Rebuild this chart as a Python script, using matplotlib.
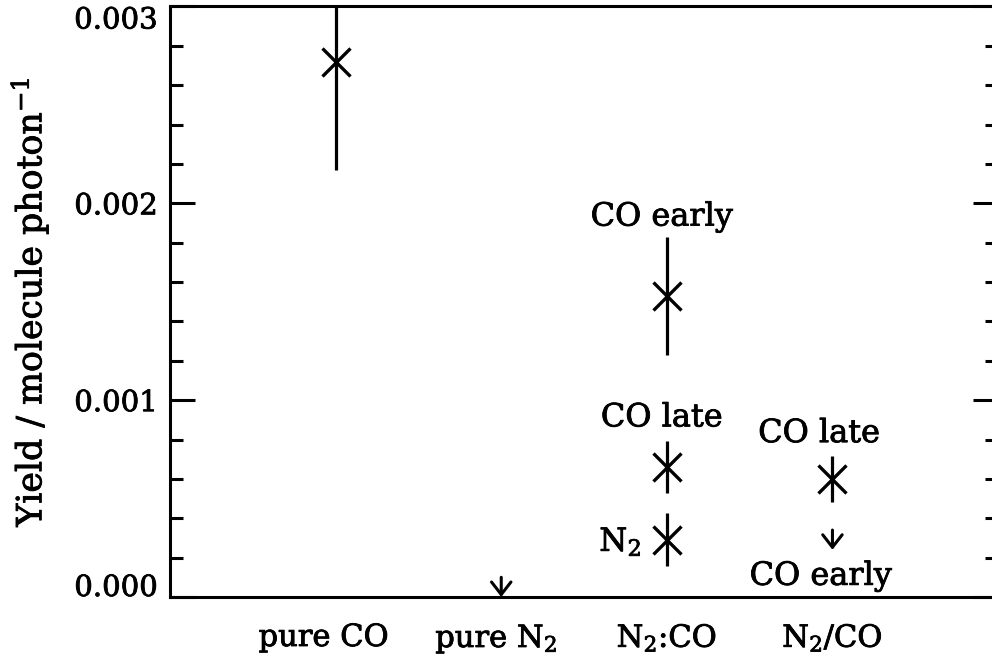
import matplotlib
matplotlib.use("Agg")
import matplotlib.pyplot as plt
import matplotlib.transforms as mtransforms
import matplotlib.patheffects as pe
from matplotlib.ticker import MultipleLocator, FormatStrFormatter

plt.rcParams['font.family'] = 'DejaVu Serif'
plt.rcParams['mathtext.fontset'] = 'dejavuserif'

# samples along the x axis
samples = ["pure CO", "pure N$_2$", "N$_2$:CO", "N$_2$/CO"]
yticks = [0.000, 0.001, 0.002, 0.003]

# measured yields (x position index, value, error, label)
pts_x = [1, 3, 3, 3, 4]
pts_y = [0.00272, 0.00153, 0.00066, 0.00029, 0.00060]
pts_err = [0.00055, 0.00030, 0.00013, 0.000135, 0.000117]
pts_lbl = ["", "CO early", "CO late", "N$_2$", "CO late"]

# upper limits
lim_x = [2, 4]
lim_y = [0.0001, 0.00034]
lim_lbl = ["", "CO early"]

fig = plt.figure(figsize=(9.92, 6.62), dpi=100)
ax = fig.add_axes([0.1714, 0.0982, 0.8347, 0.892])

ax.errorbar(pts_x, pts_y, yerr=pts_err, fmt='x', color='black',
            ms=20, mew=2.4, elinewidth=2.3, capsize=0)

for x, y in zip(lim_x, lim_y):
    ax.annotate("", xy=(x, y - 0.0001), xytext=(x, y),
                arrowprops=dict(arrowstyle="->, head_width=0.35, head_length=0.45",
                                lw=2.2, color='black', shrinkA=0, shrinkB=0,
                                mutation_scale=20))

# annotations next to the points
ax.text(2.97, 0.00193, pts_lbl[1], ha='center', va='center', fontsize=23)
ax.text(2.97, 0.00091, pts_lbl[2], ha='center', va='center', fontsize=23)
ax.text(2.72, 0.00028, pts_lbl[3], ha='center', va='center', fontsize=23)
ax.text(3.92, 0.00083, pts_lbl[4], ha='center', va='center', fontsize=23)
ax.text(3.93, 0.000105, lim_lbl[1], ha='center', va='center', fontsize=23)

ax.set_xticks(range(1, len(samples) + 1))
ax.set_xticklabels(samples, fontsize=22)
ax.tick_params(axis='x', length=0, pad=18)
# nudge the first two labels a little to the left
xl = ax.get_xticklabels()
for lab, dx in zip(xl[:2], [-12, -5]):
    lab.set_transform(lab.get_transform() +
                      mtransforms.ScaledTranslation(dx / 100, 0, fig.dpi_scale_trans))

ax.set_yticks(yticks)
ax.yaxis.set_minor_locator(MultipleLocator(0.0002))
ax.yaxis.set_major_formatter(FormatStrFormatter('%.3f'))
ax.tick_params(axis='y', which='both', direction='in', left=True, right=True,
               width=2.2, labelsize=21, pad=9)
ax.tick_params(axis='y', which='major', length=18)
ax.tick_params(axis='y', which='minor', length=9.5)

ax.set_xlim(0, 5)
ax.set_ylim(0, 0.003)

# keep end labels inside the axis range
yt = ax.yaxis.get_major_ticks()
yt[0].label1.set_verticalalignment('bottom')
yt[0].label1.set_transform(yt[0].label1.get_transform() +
                           mtransforms.ScaledTranslation(0, -0.05, fig.dpi_scale_trans))
yt[-1].label1.set_verticalalignment('top')

for sp in ax.spines.values():
    sp.set_linewidth(2.2)

ax.set_ylabel("Yield / molecule photon$^{-1}$", fontsize=25, labelpad=17)

# slightly heavier text strokes
for t in fig.findobj(matplotlib.text.Text):
    t.set_path_effects([pe.withStroke(linewidth=0.6, foreground='black')])

fig.savefig("out.png", dpi=100)
